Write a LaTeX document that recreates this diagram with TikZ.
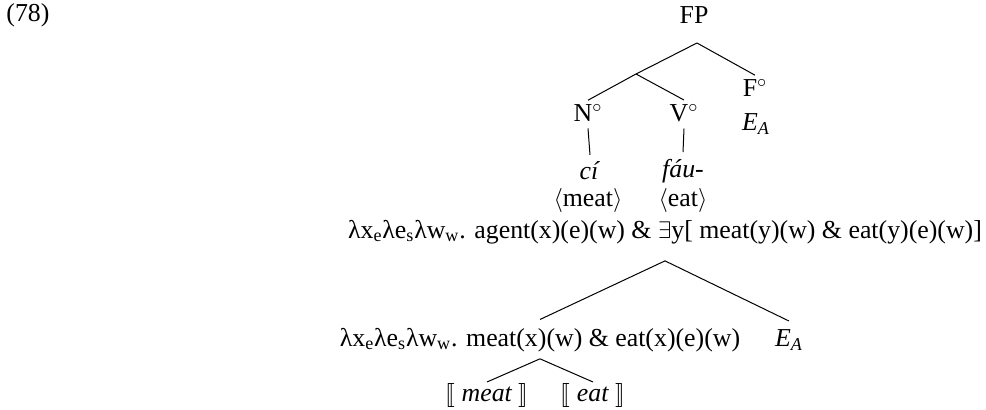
\documentclass[tikz,border=0pt]{standalone}
\usepackage{fontspec}
\setmainfont{Liberation Serif}
\usepackage{stmaryrd}
\usetikzlibrary{positioning, calc}

\newcommand{\sbs}[1]{\textsubscript{#1}}
\newcommand{\lamxew}{λx\sbs{e}λe\sbs{s}λw\sbs{w}.}

\begin{document}
\begin{tikzpicture}[x=0.6pt, y=-0.6pt, font=\fontsize{15.5}{18}\selectfont,
  lbl/.style={inner sep=0pt},
  branch/.style={line width=0.6pt}]
  \useasboundingbox (0,0) rectangle (986,410);
  \node[lbl] (exnum) at (28,15) {(78)};
  % upper tree
  \node[lbl] (fp) at (694,15) {FP};
  \coordinate (fpbot) at (697,43);
  \coordinate (nv) at (636,74);
  \node[lbl] (f) at (755,88) {F$^\circ$};
  \node[lbl] (fea) at (756,124) {\textit{E\sbs{A}}};
  \node[lbl] (n) at (588,113) {N$^\circ$};
  \node[lbl] (v) at (684,113) {V$^\circ$};
  \node[lbl] (ci) at (590,171) {\textit{cí}};
  \node[lbl] (fau) at (683,171) {\textit{fáu-}};
  \node[lbl] (meat) at (588,201) {$\langle$meat$\rangle$};
  \node[lbl] (eat) at (683,201) {$\langle$eat$\rangle$};
  \draw[branch] (fpbot) -- (nv);
  \draw[branch] (fpbot) -- ([yshift=2.4pt]f.north);
  \draw[branch] (nv) -- ([yshift=2.4pt]n.north);
  \draw[branch] (nv) -- ([yshift=2.4pt]v.north);
  \draw[branch] ([yshift=-4pt]n.south) -- ([yshift=4pt]ci.north);
  \draw[branch] ([yshift=-4pt]v.south) -- ([yshift=4pt]fau.north);
  % semantic tree
  \node[lbl] (top) at (665,232) {\lamxew{} agent(x)(e)(w) \& $\exists$y[ meat(y)(w) \& eat(y)(e)(w)]};
  \node[lbl] (low) at (540,340) {\lamxew{} meat(x)(w) \& eat(x)(e)(w)};
  \node[lbl] (lowea) at (789,340) {\textit{E\sbs{A}}};
  \node[lbl] (smeat) at (487,396) {$\llbracket$ \textit{meat} $\rrbracket$};
  \node[lbl] (seat) at (593,396) {$\llbracket$ \textit{eat} $\rrbracket$};
  \draw[branch] ([yshift=-10pt]top.south) -- ([yshift=5pt]low.north);
  \draw[branch] ([yshift=-10pt]top.south) -- ([yshift=5pt]lowea.north);
  \draw[branch] ([yshift=-4pt]low.south) -- ([yshift=1pt]smeat.north);
  \draw[branch] ([yshift=-4pt]low.south) -- ([yshift=1pt]seat.north);
\end{tikzpicture}
\end{document}
